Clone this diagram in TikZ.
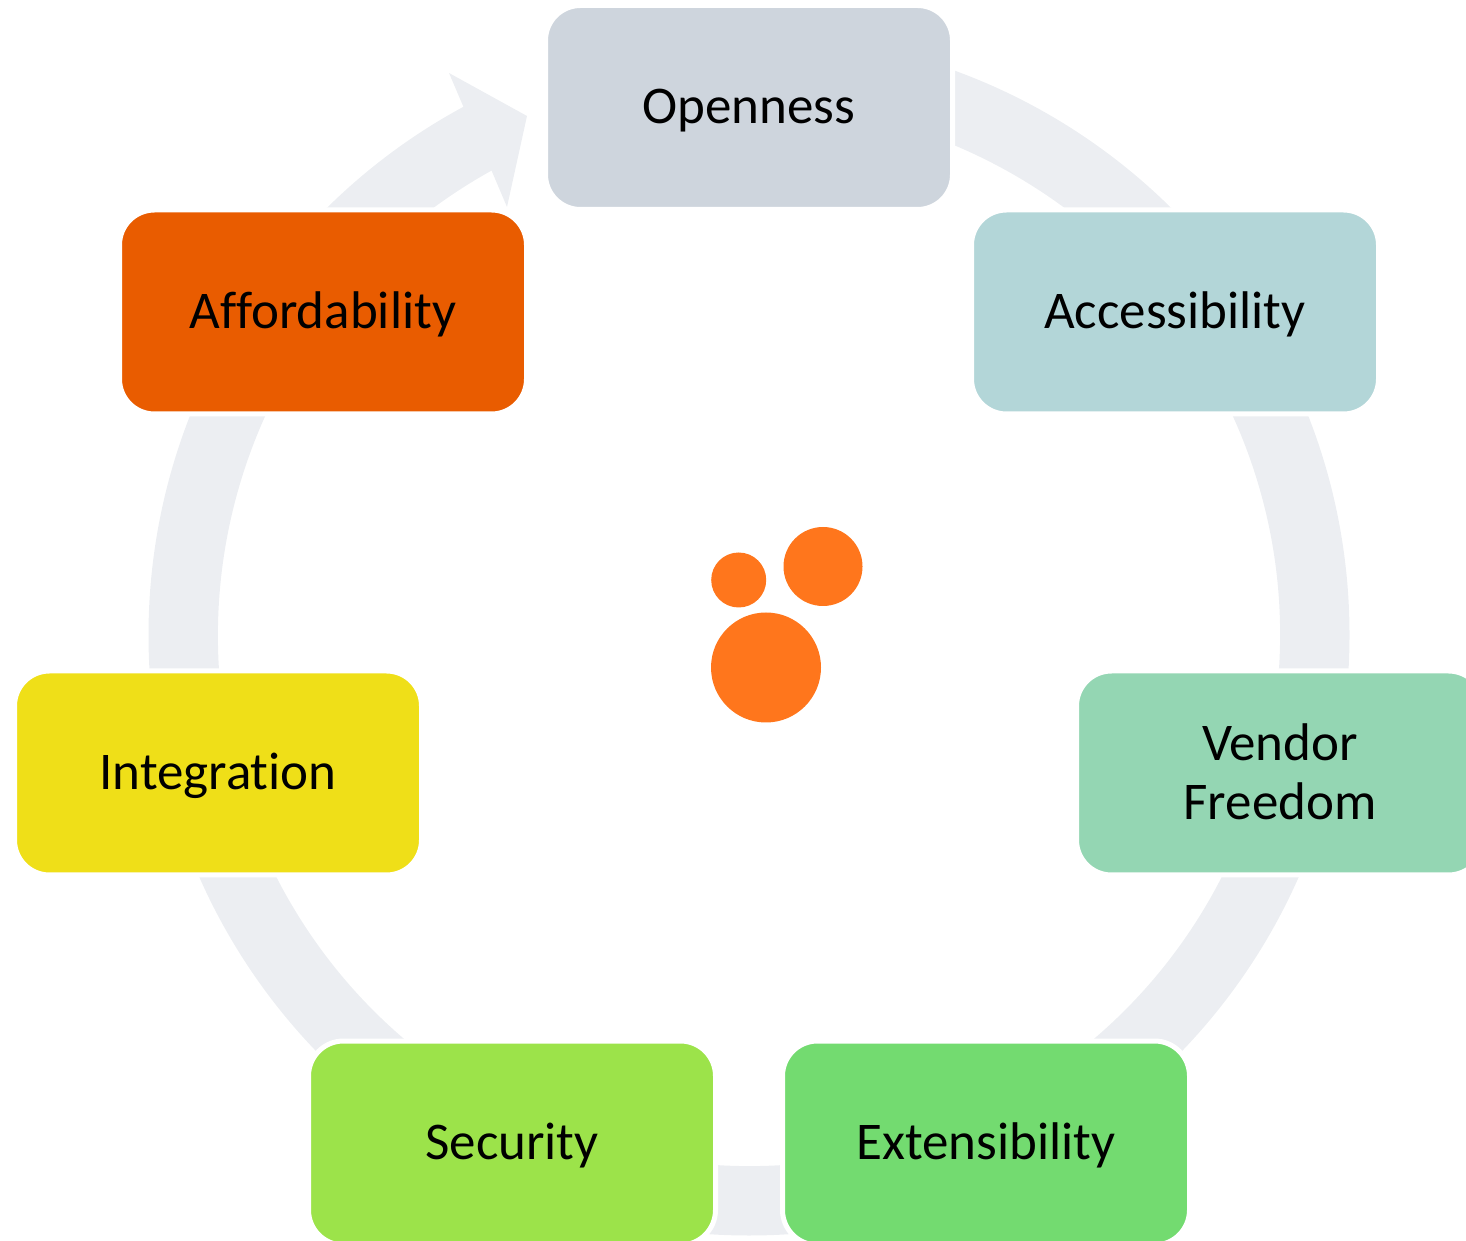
\documentclass[tikz,border=0pt]{standalone}
\usepackage{fontspec}
\setmainfont[Ligatures=NoCommon]{Carlito}
\usetikzlibrary{calc}
\definecolor{ringgray}{HTML}{ECEEF2}
\definecolor{dotorange}{HTML}{FF761C}
\definecolor{opennessfill}{HTML}{CED5DD}
\definecolor{accessfill}{HTML}{B3D6D8}
\definecolor{vendorfill}{HTML}{94D6B3}
\definecolor{extendfill}{HTML}{73DB70}
\definecolor{securityfill}{HTML}{9CE34A}
\definecolor{integfill}{HTML}{EFDF18}
\definecolor{affordfill}{HTML}{E95C00}
\tikzset{
    valuebox/.style={draw=white,line width=5pt,rounded corners=35pt,minimum width=407pt,
      minimum height=204pt,inner sep=0pt,align=center,text=black,
      font=\fontsize{53}{59}\selectfont},
    oneline/.style={text height=45pt,text depth=12pt},
    dot/.style={fill=dotorange},
  }
\begin{document}
\begin{tikzpicture}[x=1pt,y=1pt]
  \useasboundingbox (0,0) rectangle (1466,1240);
  \coordinate (O) at (749,605);
  \coordinate (barbup) at (449,1167);
  \coordinate (tip) at (527,1124);
  \coordinate (barbdown) at (507,1033);
  %ring with its arrow head
  \fill[ringgray] ($(O)+(90:600.5pt)$) arc[start angle=90, delta angle=-331.6, radius=600.5pt]
      -- (barbup) -- (tip) -- (barbdown)
      -- ($(O)+(119:531pt)$) arc[start angle=119, delta angle=331, radius=531pt] -- cycle;
  %boxes
  \node[valuebox,oneline,fill=opennessfill] (openness) at (749,1132.5) {Openness};
  \node[valuebox,oneline,fill=accessfill] (accessibility) at (1175,928) {Accessibility};
  \node[valuebox,fill=vendorfill] (vendor) at (1280,467) {Vendor\\Freedom\rule[-3pt]{0pt}{0pt}};
  \node[valuebox,oneline,fill=extendfill] (extensibility) at (986,97) {Extensibility};
  \node[valuebox,oneline,fill=securityfill] (security) at (512,97) {Security};
  \node[valuebox,oneline,fill=integfill] (integration) at (218,467) {Integration};
  \node[valuebox,oneline,fill=affordfill] (affordability) at (323,928) {Affordability};
  %dots
  \fill[dot] (738.7,660) circle (27.5);
  \fill[dot] (823,673.5) circle (39.5);
  \fill[dot] (766,572.5) circle (55);
\end{tikzpicture}
\end{document}
